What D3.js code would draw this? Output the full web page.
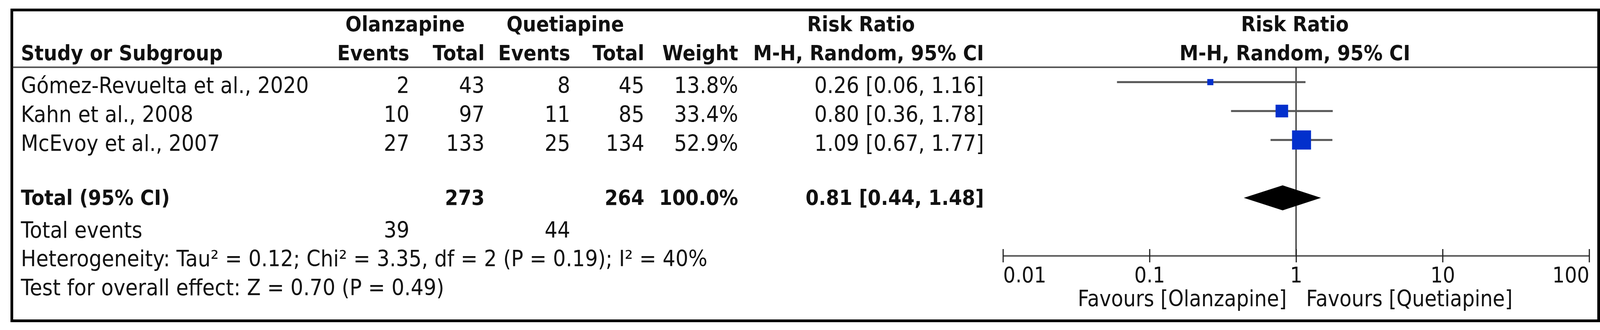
<!DOCTYPE html>
<html>
<head>
<meta charset="utf-8">
<script src="https://cdn.jsdelivr.net/npm/d3@7"></script>
<style>
  html, body { margin: 0; padding: 0; background: white; overflow: hidden; }
  svg { display: block; }
  text { font-family: 'DejaVu Sans', sans-serif; font-size: 52px; fill: #111; }
  .bold { font-weight: bold; font-size: 49px; }
</style>
</head>
<body>
<div id="forest"></div>
<script>
// study level data
let studies = ['Gómez-Revuelta et al., 2020', 'Kahn et al., 2008', 'McEvoy et al., 2007'];
let olzEvents = [2, 10, 27];
let olzTotal = [43, 97, 133];
let qtpEvents = [8, 11, 25];
let qtpTotal = [45, 85, 134];
let weights = [13.8, 33.4, 52.9];
let ratios = [0.26, 0.80, 1.09];
let lower = [0.06, 0.36, 0.67];
let upper = [1.16, 1.78, 1.77];

// pooled result
let pooledRatio = 0.81, pooledLower = 0.44, pooledUpper = 1.48;
let pooledOlzTotal = 273, pooledQtpTotal = 264, pooledWeight = 100.0;
let totalOlzEvents = 39, totalQtpEvents = 44;

// axis ticks and footnotes
let tickValues = [0.01, 0.1, 1, 10, 100];
let tickLabels = ['0.01', '0.1', '1', '10', '100'];
let heterogeneity = 'Heterogeneity: Tau² = 0.12; Chi² = 3.35, df = 2 (P = 0.19); I² = 40%';
let overallEffect = 'Test for overall effect: Z = 0.70 (P = 0.49)';
let favours = ['Favours [Olanzapine]', 'Favours [Quetiapine]'];

let width = 4127,
  height = 844;

// the source glyphs are a bit taller than DejaVu, so texts get stretched vertically
let stretch = 1.1;

// svg fills the viewport, drawing in 4127x844 units
let svg = d3.select('#forest')
  .append('svg')
  .attr('viewBox', [0, 0, width, height].join(' '))
  .attr('preserveAspectRatio', 'none')
  .style('width', '100vw')
  .style('height', '100vh')
  .style('background-color', 'white');

// outer frame
svg.append('rect')
  .attr('x', 30.5)
  .attr('y', 25.5)
  .attr('width', 4093)
  .attr('height', 795)
  .attr('fill', 'none')
  .attr('stroke', 'black')
  .attr('stroke-width', 7);

// column x positions (right aligned numbers)
let col = {
  name: 54,
  olzE: 1056,
  olzT: 1250,
  qtpE: 1471,
  qtpT: 1662,
  weight: 1904,
  ci: 2538
};

// row baselines
let rowBase = d3.scalePoint()
  .domain(studies)
  .range([238, 386]);

let fmt2 = d3.format('.2f');
let ciText = (r, l, u) => fmt2(r) + ' [' + fmt2(l) + ', ' + fmt2(u) + ']';

// helper to add a text
let addText = function(x, y, str, anchor, bold) {
  return svg.append('text')
    .attr('transform', `translate(${x}, ${y}) scale(1, ${stretch})`)
    .attr('text-anchor', anchor || 'start')
    .classed('bold', !!bold)
    .text(str);
}

// header
addText(1045, 80, 'Olanzapine', 'middle', true);
addText(1458, 80, 'Quetiapine', 'middle', true);
addText(2221, 80, 'Risk Ratio', 'middle', true);
addText(3340, 80, 'Risk Ratio', 'middle', true);
addText(col.name, 154, 'Study or Subgroup', 'start', true);
addText(col.olzE, 154, 'Events', 'end', true);
addText(col.olzT, 154, 'Total', 'end', true);
addText(col.qtpE, 154, 'Events', 'end', true);
addText(col.qtpT, 154, 'Total', 'end', true);
addText(col.weight, 154, 'Weight', 'end', true);
addText(col.ci, 154, 'M-H, Random, 95% CI', 'end', true);
addText(3340, 154, 'M-H, Random, 95% CI', 'middle', true);

// rule under the header
svg.append('line')
  .attr('x1', 34).attr('x2', 4120)
  .attr('y1', 172).attr('y2', 172)
  .attr('stroke', '#555')
  .attr('stroke-width', 4);

// study rows
studies.forEach(function(s, i) {
  let y = rowBase(s);
  addText(col.name, y, s);
  addText(col.olzE, y, olzEvents[i], 'end');
  addText(col.olzT, y, olzTotal[i], 'end');
  addText(col.qtpE, y, qtpEvents[i], 'end');
  addText(col.qtpT, y, qtpTotal[i], 'end');
  addText(col.weight, y, weights[i].toFixed(1) + '%', 'end');
  addText(col.ci, y, ciText(ratios[i], lower[i], upper[i]), 'end');
});

// total rows
addText(col.name, 524, 'Total (95% CI)', 'start', true);
addText(col.olzT, 524, pooledOlzTotal, 'end', true);
addText(col.qtpT, 524, pooledQtpTotal, 'end', true);
addText(col.weight, 524, pooledWeight.toFixed(1) + '%', 'end', true);
addText(col.ci, 524, ciText(pooledRatio, pooledLower, pooledUpper), 'end', true);
addText(col.name, 608, 'Total events');
addText(col.olzE, 608, totalOlzEvents, 'end');
addText(col.qtpE, 608, totalQtpEvents, 'end');
addText(col.name, 681, heterogeneity);
addText(col.name, 755, overallEffect);

// forest plot scale
let xScale = d3.scaleLog()
  .domain([0.01, 100])
  .range([2587, 4099]);

let axisY = 654;

// null line
svg.append('line')
  .attr('x1', xScale(1)).attr('x2', xScale(1))
  .attr('y1', 172).attr('y2', axisY)
  .attr('stroke', '#222')
  .attr('stroke-width', 3);

// confidence intervals
let ciY = d3.scalePoint()
  .domain(studies)
  .range([210, 358]);

svg.selectAll('.ci')
  .data(studies)
  .enter()
  .append('line')
    .attr('class', 'ci')
    .attr('x1', (d, i) => xScale(lower[i]))
    .attr('x2', (d, i) => xScale(upper[i]))
    .attr('y1', d => ciY(d))
    .attr('y2', d => ciY(d))
    .attr('stroke', '#555')
    .attr('stroke-width', 5);

// weight squares
let sizeScale = d3.scaleLinear()
  .domain([0, 52.9])
  .range([4, 49]);

svg.selectAll('.box')
  .data(studies)
  .enter()
  .append('rect')
    .attr('class', 'box')
    .attr('x', (d, i) => xScale(ratios[i]) - sizeScale(weights[i]) / 2)
    .attr('y', (d, i) => ciY(d) - sizeScale(weights[i]) / 2)
    .attr('width', (d, i) => sizeScale(weights[i]))
    .attr('height', (d, i) => sizeScale(weights[i]))
    .attr('fill', '#0330cc');

// pooled diamond
let dy = 506, dh = 32;
svg.append('path')
  .attr('d', d3.line()([
    [xScale(pooledLower), dy],
    [xScale(pooledRatio), dy - dh],
    [xScale(pooledUpper), dy],
    [xScale(pooledRatio), dy + dh]
  ]) + 'Z')
  .attr('fill', 'black');

// bottom axis
let xAxis = d3.axisBottom(xScale)
  .tickValues(tickValues)
  .tickFormat((d, i) => tickLabels[i])
  .tickSizeInner(17)
  .tickSizeOuter(0);

let axisG = svg.append('g')
  .attr('transform', `translate(0, ${axisY})`)
  .call(xAxis);

axisG.select('.domain')
  .attr('stroke', '#555')
  .attr('stroke-width', 4);

axisG.selectAll('.tick line')
  .attr('y1', -17)
  .attr('stroke', '#222')
  .attr('stroke-width', 3);

axisG.selectAll('.tick text')
  .attr('y', 0)
  .attr('dy', null)
  .attr('transform', `translate(0, 68) scale(1, ${stretch})`)
  .style('font-family', "'DejaVu Sans', sans-serif")
  .style('font-size', '50px')
  .attr('fill', '#111')
  .attr('text-anchor', (d, i) => i == 0 ? 'start' : (i == tickValues.length - 1 ? 'end' : 'middle'));

// favours labels
addText(xScale(1) - 24, 783, favours[0], 'end').style('font-size', '51px');
addText(xScale(1) + 26, 783, favours[1], 'start').style('font-size', '51px');
</script>
</body>
</html>
